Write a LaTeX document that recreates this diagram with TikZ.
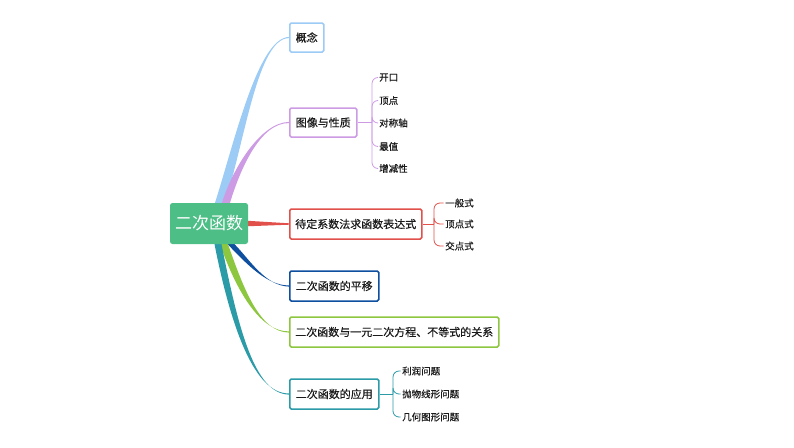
\documentclass[tikz,border=0pt]{standalone}
\usepackage{fontspec}
\setmainfont{Noto Sans CJK SC}
\newfontfamily\cjkbold{Noto Sans CJK SC}[FakeBold=0.35]
\usetikzlibrary{calc,backgrounds}
\definecolor{cRoot}{HTML}{4DBE86}
\definecolor{cBlue}{HTML}{9CCBF5}
\definecolor{cPurple}{HTML}{CD9BE3}
\definecolor{cRed}{HTML}{E2504B}
\definecolor{cNavy}{HTML}{0E4FA0}
\definecolor{cGreen}{HTML}{8DC63F}
\definecolor{cTeal}{HTML}{2B9BA8}
\definecolor{cText}{HTML}{1A1A1A}
\newcommand\taper[6]{\fill[#1] ($(#3)+(-#2,0)$) .. controls ($(#4)+(-#2,0)$) and (#5) .. ($(#6)+(0,-0.6)$) -- ($(#6)+(0,0.6)$) .. controls (#5) and ($(#4)+(#2,0)$) .. ($(#3)+(#2,0)$) -- cycle;}
\tikzset{
  rootbox/.style={fill=cRoot, rounded corners=2.5pt, text=white, inner sep=0pt,
    minimum width=78pt, minimum height=41pt, font=\fontsize{17}{19}\selectfont},
  branchbox/.style={draw=#1, fill=white, line width=1.5pt, rounded corners=1.5pt,
    anchor=west, inner sep=0pt, minimum height=30pt, text=cText,
    font=\cjkbold\fontsize{11}{13}\selectfont},
  leaf/.style={anchor=west, inner sep=1.5pt, text=cText, font=\cjkbold\fontsize{9.5}{11}\selectfont},
  bracelink/.style={draw=#1, line width=0.8pt, rounded corners=6pt}
}
\begin{document}
\begin{tikzpicture}[x=1pt,y=-1pt]
\useasboundingbox (0,0) rectangle (794,447);
% root
\node[rootbox] (root) at (209,223.5) {二次函数};
% branches
\node[branchbox=cBlue, minimum width=34pt, minimum height=29pt] (gainian) at (289,37.5) {概念};
\node[branchbox=cPurple, minimum width=67pt, minimum height=29pt] (tuxiang) at (289,122.5) {图像与性质};
\node[branchbox=cRed, minimum width=132pt] (daiding) at (289,224) {待定系数法求函数表达式};
\node[branchbox=cNavy, minimum width=89pt] (pingyi) at (289,286) {二次函数的平移};
\node[branchbox=cGreen, minimum width=209pt] (guanxi) at (289,332) {二次函数与一元二次方程、不等式的关系};
\node[branchbox=cTeal, minimum width=89pt] (yingyong) at (289,394) {二次函数的应用};
% leaves of 图像与性质
\node[leaf] (kaikou) at (377.5,77.5) {开口};
\node[leaf] (dingdian) at (377.5,100.5) {顶点};
\node[leaf] (duichen) at (377.5,123) {对称轴};
\node[leaf] (zuizhi) at (377.5,146.5) {最值};
\node[leaf] (zengjian) at (377.5,168.5) {增减性};
\coordinate (hubA) at (372,122.5);
% leaves of 待定系数法
\node[leaf] (yiban) at (443.5,203) {一般式};
\node[leaf] (dingdianshi) at (443.5,224) {顶点式};
\node[leaf] (jiaodian) at (443.5,246) {交点式};
\coordinate (hubB) at (434,224);
% leaves of 应用
\node[leaf] (lirun) at (400.5,371) {利润问题};
\node[leaf] (paowu) at (400.5,394) {抛物线形问题};
\node[leaf] (jihe) at (400.5,417) {几何图形问题};
\coordinate (hubC) at (393,394);
% start points on root
\coordinate (sBlue) at ($(root.north)+(11,0)$);
\coordinate (sPurple) at ($(root.north)+(17,0)$);
\coordinate (sNavy) at ($(root.south)+(22,0)$);
\coordinate (sGreen) at ($(root.south)+(15,0)$);
\coordinate (sTeal) at ($(root.south)+(9,0)$);
\begin{pgfonlayer}{background}
\taper{cBlue}{5}{sBlue}{240,140}{258,38}{gainian.west}
\taper{cPurple}{4}{sPurple}{236,170}{260,122.5}{tuxiang.west}
\fill[cRed] ($(root.east)+(-2,-2.8)$) -- ($(daiding.west)+(0,-0.7)$) -- ($(daiding.west)+(0,0.7)$) -- ($(root.east)+(-2,2.8)$) -- cycle;
\taper{cNavy}{3.5}{sNavy}{245,258}{265,286}{pingyi.west}
\taper{cGreen}{4}{sGreen}{240,290}{260,332}{guanxi.west}
\taper{cTeal}{3.5}{sTeal}{235,330}{255,394}{yingyong.west}
\end{pgfonlayer}
% braces
\draw[bracelink=cPurple] (tuxiang.east) -- (hubA);
\foreach \n in {kaikou,dingdian,duichen,zuizhi,zengjian}{\draw[bracelink=cPurple] (hubA) |- (\n.west);}
\draw[bracelink=cRed] (daiding.east) -- (hubB);
\foreach \n in {yiban,dingdianshi,jiaodian}{\draw[bracelink=cRed] (hubB) |- (\n.west);}
\draw[bracelink=cTeal] (yingyong.east) -- (hubC);
\foreach \n in {lirun,paowu,jihe}{\draw[bracelink=cTeal] (hubC) |- (\n.west);}
\end{tikzpicture}
\end{document}
